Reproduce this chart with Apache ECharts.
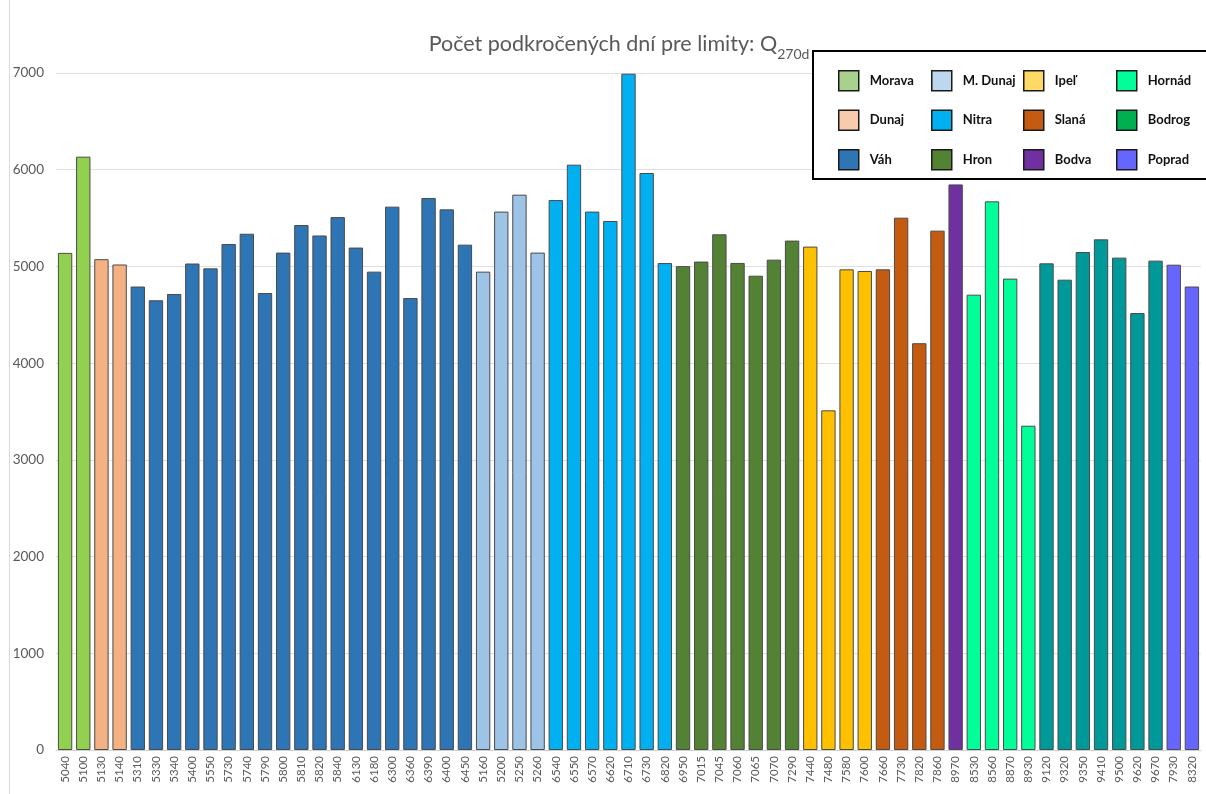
<!DOCTYPE html>
<html>
<head>
<meta charset="utf-8">
<script src="https://cdn.jsdelivr.net/npm/echarts@6/dist/echarts.min.js"></script>
<style>
  html, body { margin: 0; padding: 0; background: #fff; }
  #chart { width: 1206px; height: 794px; }
</style>
</head>
<body>
<div id="chart"></div>
<script>
// Gauging stations in display order
const stations = [
  '5040','5100',
  '5130','5140',
  '5310','5330','5340','5400','5550','5730','5740','5790','5800','5810','5820','5840','6130','6180','6300','6360','6390','6400','6450',
  '5160','5200','5250','5260',
  '6540','6550','6570','6620','6710','6730','6820',
  '6950','7015','7045','7060','7065','7070','7290',
  '7440','7480','7580','7600',
  '7660','7730','7820','7860',
  '8970',
  '8530','8560','8870','8930',
  '9120','9320','9350','9410','9500','9620','9670',
  '7930','8320'
];

// River basin of each station
const stationRiver = [
  'Morava','Morava',
  'Dunaj','Dunaj',
  'Váh','Váh','Váh','Váh','Váh','Váh','Váh','Váh','Váh','Váh','Váh','Váh','Váh','Váh','Váh','Váh','Váh','Váh','Váh',
  'M. Dunaj','M. Dunaj','M. Dunaj','M. Dunaj',
  'Nitra','Nitra','Nitra','Nitra','Nitra','Nitra','Nitra',
  'Hron','Hron','Hron','Hron','Hron','Hron','Hron',
  'Ipeľ','Ipeľ','Ipeľ','Ipeľ',
  'Slaná','Slaná','Slaná','Slaná',
  'Bodva',
  'Hornád','Hornád','Hornád','Hornád',
  'Bodrog','Bodrog','Bodrog','Bodrog','Bodrog','Bodrog','Bodrog',
  'Poprad','Poprad'
];

// Number of days below the Q270d limit
const values = [
  5140, 6135,
  5075, 5020,
  4792, 4650, 4715, 5030, 4980, 5232, 5338, 4725, 5143, 5428, 5320, 5510, 5195, 4946, 5618, 4673, 5708, 5590, 5225,
  4946, 5567, 5742, 5143,
  5686, 6052, 5567, 5470, 6993, 5966, 5035,
  5003, 5050, 5332, 5036, 4904, 5070, 5267,
  5205, 3512, 4970, 4953,
  4970, 5504, 4206, 5370,
  5848,
  4708, 5673, 4874, 3353,
  5032, 4863, 5149, 5280, 5091, 4518, 5060,
  5018, 4792
];

const rivers = ['Morava','Dunaj','Váh','M. Dunaj','Nitra','Hron','Ipeľ','Slaná','Bodva','Hornád','Bodrog','Poprad'];

const yTicks = { min: 0, max: 7000, step: 1000 };

const barColors = {
  'Morava': '#92D050', 'Dunaj': '#F4B183', 'Váh': '#2E75B6', 'M. Dunaj': '#9DC3E6',
  'Nitra': '#00B0F0', 'Hron': '#548235', 'Ipeľ': '#FFC000', 'Slaná': '#C55A11',
  'Bodva': '#7030A0', 'Hornád': '#00FF99', 'Bodrog': '#009999', 'Poprad': '#6666FF'
};
const legendColors = {
  'Morava': '#A9D18E', 'Dunaj': '#F8CBAD', 'Váh': '#2E75B6', 'M. Dunaj': '#BDD7EE',
  'Nitra': '#00B0F0', 'Hron': '#548235', 'Ipeľ': '#FFD966', 'Slaná': '#C55A11',
  'Bodva': '#7030A0', 'Hornád': '#00FF99', 'Bodrog': '#00B050', 'Poprad': '#6666FF'
};

const FONT = 'Lato, "Open Sans", sans-serif';
const GREY = '#595959';

const series = rivers.map(r => ({
  name: r,
  type: 'bar',
  stack: 'all',
  barCategoryGap: '21%',
  itemStyle: { color: barColors[r], borderColor: '#4a4a4a', borderWidth: 1 },
  emphasis: { disabled: true },
  data: values.map((v, i) => stationRiver[i] === r ? v : '-')
}));

// Legend laid out as 4 columns x 3 rows
const legendCols = [838, 931, 1023, 1116];
const legends = legendCols.map((x, c) => ({
  orient: 'vertical',
  left: x,
  top: 70,
  padding: 0,
  itemWidth: 20,
  itemHeight: 20,
  itemGap: 18,
  selectedMode: false,
  icon: 'rect',
  textStyle: { fontFamily: FONT, fontWeight: 'bold', fontSize: 13, color: '#111', padding: [0, 0, 0, 6] },
  data: rivers.slice(c * 3, c * 3 + 3).map(name => ({
    name,
    itemStyle: { color: legendColors[name], borderColor: '#1a1a1a', borderWidth: 1.5 }
  }))
}));

const chart = echarts.init(document.getElementById('chart'), null, { renderer: 'canvas' });
chart.setOption({
  backgroundColor: '#fff',
  animation: false,
  title: {
    text: '{a|Počet podkročených dní pre limity: Q}{b|270d}',
    left: 614,
    textAlign: 'center',
    top: 22,
    textStyle: {
      fontWeight: 'normal',
      rich: {
        a: { fontFamily: FONT, fontSize: 21.5, fontWeight: 'normal', color: GREY, verticalAlign: 'bottom', lineHeight: 28 },
        b: { fontFamily: FONT, fontSize: 14, fontWeight: 'normal', color: GREY, verticalAlign: 'bottom', lineHeight: 28, padding: [0, 0, -6, 0] }
      }
    }
  },
  legend: legends,
  grid: { left: 56, right: 5, top: 73, bottom: 44 },
  xAxis: {
    type: 'category',
    data: stations,
    axisLine: { lineStyle: { color: '#d0d0d0' } },
    axisTick: { show: false },
    axisLabel: { rotate: 90, interval: 0, fontFamily: FONT, fontSize: 11.5, color: GREY, margin: 6 }
  },
  yAxis: {
    type: 'value',
    min: yTicks.min,
    max: yTicks.max,
    interval: yTicks.step,
    axisLine: { show: false },
    axisTick: { show: false },
    splitLine: { lineStyle: { color: '#e0e0e0' } },
    axisLabel: { fontFamily: FONT, fontSize: 13.5, color: GREY, margin: 12, formatter: v => String(v) }
  },
  graphic: [
    { type: 'line', z: 0, shape: { x1: 9.5, y1: 0, x2: 9.5, y2: 794 }, style: { stroke: '#d9d9d9', lineWidth: 1 } },
    { type: 'rect', z: 3, shape: { x: 813, y: 51, width: 400, height: 128 }, style: { fill: '#fff', stroke: '#000', lineWidth: 2 } }
  ],
  series
});
</script>
</body>
</html>
